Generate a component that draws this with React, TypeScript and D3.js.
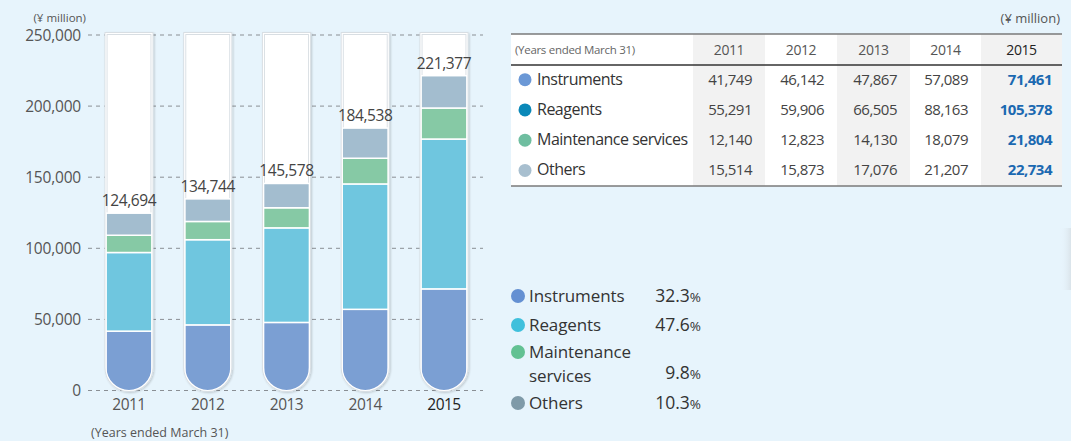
import React from "react";
import * as d3 from "d3";

const years = ["2011", "2012", "2013", "2014", "2015"];
const instruments = [41749, 46142, 47867, 57089, 71461];
const reagents = [55291, 59906, 66505, 88163, 105378];
const maintenance = [12140, 12823, 14130, 18079, 21804];
const others = [15514, 15873, 17076, 21207, 22734];
const totals = [124694, 134744, 145578, 184538, 221377];
const yTicks = [0, 50000, 100000, 150000, 200000, 250000];
const seriesNames = ["Instruments", "Reagents", "Maintenance services", "Others"];
const legendLines = [["Instruments"], ["Reagents"], ["Maintenance", "services"], ["Others"]];
const shares = ["32.3", "47.6", "9.8", "10.3"];

const barColors = ["#7b9fd3", "#6fc6df", "#86c9a5", "#a3bdcf"];
const tableDot = ["#6b98d6", "#0a88b8", "#6fbea0", "#a8bfcf"];
const legendDot = ["#6490d2", "#3fc0dc", "#62c192", "#7f9aa8"];

const W = 1071;
const H = 441;
const FONT = "'Open Sans', 'Noto Sans', sans-serif";

export default function App() {
  const keys = ["instruments", "reagents", "maintenance", "others"];
  const seriesArrays = [instruments, reagents, maintenance, others];
  const rows = years.map((yr, i) => {
    const o: any = { year: yr };
    keys.forEach((k, j) => (o[k] = seriesArrays[j][i]));
    return o;
  });
  const stacked = d3.stack<any>().keys(keys)(rows);

  const x = d3.scalePoint<string>().domain(years).range([129, 444]);
  const y = d3.scaleLinear().domain([0, 250000]).range([390.5, 35]);
  const fmt = d3.format(",");
  const half = 23;
  const tubeTop = y(250000) - 1.5;
  const bottom = y(0);

  const tubePath = (cx: number) => {
    const p = d3.path();
    p.moveTo(cx - half, tubeTop);
    p.lineTo(cx - half, bottom - half);
    p.arc(cx, bottom - half, half, Math.PI, 0, true);
    p.lineTo(cx + half, tubeTop);
    p.closePath();
    return p.toString();
  };

  // table layout
  const tLeft = 511;
  const tRight = 1062;
  const colEdges = [693, 765, 837, 910, 981, 1062];
  const headTop = 34;
  const headBottom = 65;
  const rowH = (186 - headBottom) / 4;

  return (
    <svg width={W} height={H} style={{ position: "absolute", left: 0, top: 0 }} fontFamily={FONT}>
      <defs>
        <filter id="sh" x="-20%" y="-5%" width="140%" height="110%">
          <feGaussianBlur in="SourceAlpha" stdDeviation="1.2" />
          <feOffset dx="0.5" dy="0.5" />
          <feComponentTransfer>
            <feFuncA type="linear" slope="0.18" />
          </feComponentTransfer>
          <feMerge>
            <feMergeNode />
            <feMergeNode in="SourceGraphic" />
          </feMerge>
        </filter>
        <linearGradient id="edge" x1="0" x2="1">
          <stop offset="0" stopColor="#e8f4fc" stopOpacity="0" />
          <stop offset="1" stopColor="#cdd3d8" stopOpacity="0.5" />
        </linearGradient>
        {years.map((yr) => (
          <clipPath id={`clip${yr}`} key={yr}>
            <path d={tubePath(x(yr)!)} />
          </clipPath>
        ))}
      </defs>
      <rect width={W} height={H} fill="#e7f4fc" />
      <rect x={1060} y={228} width={11} height={62} fill="url(#edge)" />

      {/* y axis label */}
      <text x={86} y={22} fontSize={11.5} fill="#555" textAnchor="end">(¥ million)</text>

      {/* gridlines */}
      {yTicks.map((t) => (
        <g key={t}>
          <line x1={88} x2={483} y1={y(t)} y2={y(t)} stroke="#8a8f94" strokeWidth={1} strokeDasharray="4 4" />
          <text x={81} y={y(t) + 5.5} fontSize={15.5} fill="#555" textAnchor="end" letterSpacing={-0.2}>{fmt(t)}</text>
        </g>
      ))}

      {/* tubes */}
      {years.map((yr, i) => {
        const cx = x(yr)!;
        return (
          <g key={yr}>
            <path d={tubePath(cx)} fill="#fff" stroke="#d8dee3" strokeWidth={3} filter="url(#sh)" />
            <g clipPath={`url(#clip${yr})`}>
              {stacked.map((s, j) => {
                const d = s[i];
                return (
                  <rect
                    key={j}
                    x={cx - half}
                    width={half * 2}
                    y={y(d[1])}
                    height={y(d[0]) - y(d[1]) + (j === 0 ? 30 : 0)}
                    fill={barColors[j]}
                    stroke="#fff"
                    strokeWidth={1.5}
                  />
                );
              })}
            </g>
            <path d={tubePath(cx)} fill="none" stroke="#fff" strokeWidth={1.2} />
            <text x={cx} y={y(totals[i]) - 7} fontSize={15.5} fill="#444" textAnchor="middle" letterSpacing={-0.4}>
              {fmt(totals[i])}
            </text>
            <text x={cx} y={410} fontSize={15.5} fill={i === 4 ? "#222" : "#555"} textAnchor="middle" letterSpacing={-0.5}>
              {yr}
            </text>
          </g>
        );
      })}
      <text x={91} y={437} fontSize={12.5} fill="#555">(Years ended March 31)</text>

      {/* table */}
      <text x={1060} y={23} fontSize={13} fill="#555" textAnchor="end">(¥ million)</text>
      <rect x={tLeft} y={headTop} width={tRight - tLeft} height={186 - headTop} fill="#fff" />
      {[0, 2, 4].map((c) => (
        <rect key={c} x={colEdges[c]} y={headTop} width={colEdges[c + 1] - colEdges[c]} height={186 - headTop} fill="#f2f2f2" />
      ))}
      <line x1={tLeft} x2={tRight} y1={headTop} y2={headTop} stroke="#7a7a7a" strokeWidth={1.5} />
      <line x1={tLeft} x2={tRight} y1={headBottom} y2={headBottom} stroke="#333" strokeWidth={1.5} />
      <line x1={tLeft} x2={tRight} y1={186} y2={186} stroke="#7a7a7a" strokeWidth={1.5} />
      <text x={515} y={54} fontSize={11.5} fill="#666" letterSpacing={-0.3}>(Years ended March 31)</text>
      {years.map((yr, c) => (
        <text key={yr} x={(colEdges[c] + colEdges[c + 1]) / 2} y={55} fontSize={14} fill={c === 4 ? "#222" : "#555"} textAnchor="middle" letterSpacing={-0.4}>
          {yr}
        </text>
      ))}
      {seriesNames.map((name, r) => {
        const cy = headBottom + rowH * (r + 0.5) - 1.5;
        return (
          <g key={name}>
            <circle cx={525} cy={cy + 1} r={6.5} fill={tableDot[r]} />
            <text x={537} y={cy + 6} fontSize={16} fill="#333" letterSpacing={-0.5}>{name}</text>
            {years.map((yr, c) => (
              <text
                key={yr}
                x={c === 4 ? 1052 : colEdges[c + 1] - 13}
                y={cy + 6}
                fontSize={15}
                fill={c === 4 ? "#1b69b1" : "#444"}
                fontWeight={c === 4 ? 700 : 400}
                textAnchor="end"
                letterSpacing={-0.5}
              >
                {fmt(seriesArrays[r][c])}
              </text>
            ))}
          </g>
        );
      })}

      {/* legend */}
      {legendLines.map((lines, r) => {
        const baseY = [296, 325, 352, 403][r];
        const pctY = lines.length > 1 ? 373 : baseY;
        return (
          <g key={r}>
            <circle cx={518} cy={baseY} r={7} fill={legendDot[r]} />
            <text x={529} y={baseY + 6} fontSize={17} fill="#333" letterSpacing={-0.1}>
              {lines.map((ln, k) => (
                <tspan key={k} x={529} dy={k === 0 ? 0 : 23.5}>{ln}</tspan>
              ))}
            </text>
            <text x={701} y={pctY + 6} fontSize={17.5} fill="#333" textAnchor="end">
              {shares[r]}
              <tspan fontSize={13.5}>%</tspan>
            </text>
          </g>
        );
      })}
    </svg>
  );
}
